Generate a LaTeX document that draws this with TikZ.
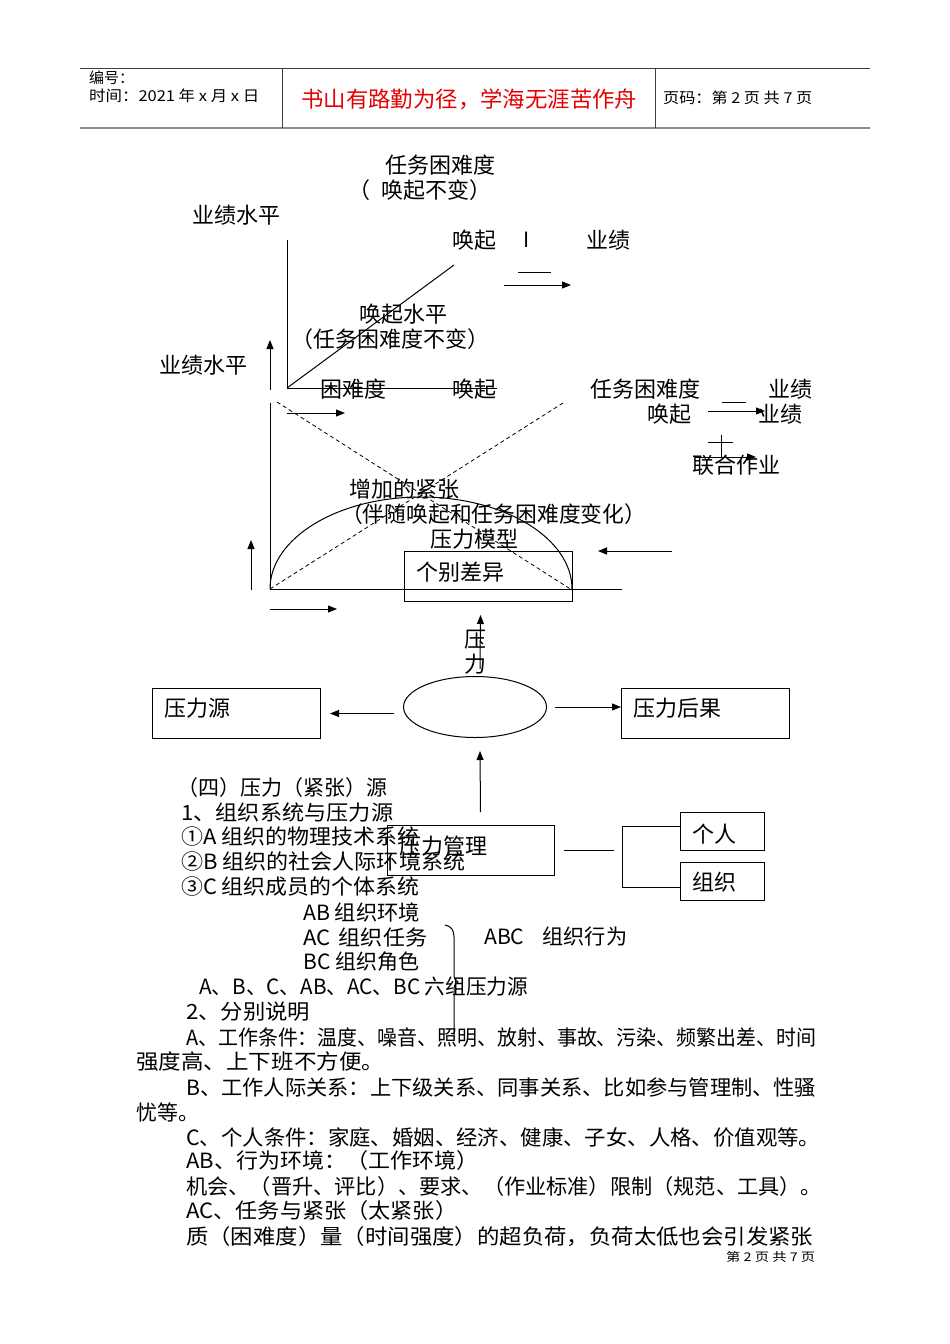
\documentclass[tikz,border=0pt]{standalone}
\usepackage{fontspec}
\usepackage{graphicx}
\newfontfamily\cjk{Noto Sans CJK SC}
\usetikzlibrary{arrows.meta,calc,shapes.geometric}
\definecolor{titred}{RGB}{228,0,0}
\newcommand\fw[2]{\resizebox{#1pt}{\height}{#2}}
\newcommand\fdiag{\cjk\fontsize{22pt}{22pt}\selectfont}
\newcommand\fbody{\cjk\fontsize{21pt}{21pt}\selectfont}
\newcommand\fhdr{\cjk\fontsize{15pt}{15pt}\selectfont}
\newcommand\ffoot{\cjk\fontsize{12pt}{12pt}\selectfont}
\tikzset{
  lab/.style={font=\fdiag, inner sep=0pt, anchor=west},
  txt/.style={font=\fbody, inner sep=0pt, anchor=west},
  hdr/.style={font=\fhdr, inner sep=0pt, anchor=west},
  bx/.style={draw, line width=1pt, inner sep=0pt, anchor=north west},
  arr/.style={-{Triangle[length=9pt,width=7pt]}, line width=1pt},
  ln/.style={line width=1pt},
  dsh/.style={line width=0.8pt, dash pattern=on 4pt off 3pt},
}
\begin{document}
\begin{tikzpicture}[x=1pt,y=-1pt]
\useasboundingbox[fill=white] (0,0) rectangle (950,1344);

% ---------- header ----------
\draw[line width=1pt, black!75] (80,68) -- (870,68);
\draw[line width=2pt, black!45] (80,128) -- (870,128);
\draw[line width=1pt, black!75] (282,68) -- (282,128);
\draw[line width=1pt, black!75] (655,68) -- (655,128);
\node[hdr] (h1) at (89,78) {编号：};
\node[hdr] (h2) at (89,96) {\fw{170}{时间：2021 年 x 月 x 日}};
\node[hdr, font=\cjk\fontsize{22pt}{22pt}\selectfont, text=titred] (h3) at (301,99) {\fw{336}{书山有路勤为径，学海无涯苦作舟}};
\node[hdr] (h4) at (663,98) {\fw{149}{页码：第 2 页 共 7 页}};

% ---------- upper diagram ----------
\node[lab] (u1) at (385,165) {任务困难度};
\node[lab] (u2) at (348,190) {（\hspace{11pt}唤起不变）};
\node[lab] (u3) at (192,215) {业绩水平};
\node[lab] (u4) at (452,240) {唤起};
\node[font=\cjk\fontsize{21pt}{21pt}\selectfont, inner sep=0pt] (u5) at (527,240) {I};
\node[lab] (u6) at (586,240) {业绩};
\node[lab] (u7) at (359,314) {唤起水平};
\node[lab] (u8) at (291,339) {（任务困难度不变）};
\node[lab] (u9) at (159,365) {业绩水平};
\node[lab] (u10) at (320,389) {困难度};
\node[lab] (u11) at (452,389) {唤起};
\node[lab] (u12) at (590,389) {任务困难度};
\node[lab] (u13) at (647,414) {唤起};
\node[lab] (u14) at (768,389) {业绩};
\node[lab] (u15) at (758,414) {业绩};
\node[lab] (u16) at (692,465) {联合作业};
\node[lab] (u17) at (349,489) {增加的紧张};
\node[lab] (u18) at (341,514) {\fw{305}{（伴随唤起和任务困难度变化）}};
\node[lab] (u19) at (430,539) {压力模型};

% first graph
\coordinate (o1) at (287,388);
\draw[ln] (287,240) -- (o1) -- (497,388);
\draw[ln] (o1) -- (454,265);
\draw[ln] (518,272) -- (551,272);
\coordinate (ra1) at (504,285); \coordinate (ra2) at (571,285);
\draw[arr] (ra1) -- (ra2);
\coordinate (ua1) at (270,390); \coordinate (ua2) at (270,340);
\draw[arr] (ua1) -- (ua2);

% right formula
\draw[ln] (722,402) -- (746,402);
\coordinate (rb1) at (708,411); \coordinate (rb2) at (765,411);
\draw[arr] (rb1) -- (rb2);
\draw[ln] (708,442) -- (733,442);
\draw[ln] (721,435) -- (721,457);
\coordinate (rc1) at (695,457); \coordinate (rc2) at (756,457);
\draw[arr] (rc1) -- (rc2);

% second graph
\coordinate (o2) at (270,589);
\draw[ln] (270,403) -- (o2) -- (622,589);
\draw[dsh] (277,402) -- (572,590);
\draw[dsh] (563,403) -- (o2);
\draw[ln] (o2) arc[start angle=180, end angle=0, x radius=151pt, y radius=92pt];
\coordinate (sa1) at (287,413); \coordinate (sa2) at (345,413);
\draw[arr] (sa1) -- (sa2);
\coordinate (sb1) at (270,609); \coordinate (sb2) at (337,609);
\draw[arr] (sb1) -- (sb2);
\coordinate (sc1) at (251,590); \coordinate (sc2) at (251,540);
\draw[arr] (sc1) -- (sc2);

% individual differences box
\node[bx, minimum width=168pt, minimum height=50pt] (diff) at (404,551) {};
\node[lab] (diffT) at (416,572) {个别差异};
\coordinate (la1) at (672,551);
\draw[arr] (la1) -- ($(la1 -| diff.east)+(25,0)$);

% ---------- stress model ----------
\node[draw, ellipse, line width=1pt, minimum width=143pt, minimum height=61pt, inner sep=0pt] (ell) at (475,707) {};
\node[font=\fdiag, inner sep=0pt] (p1) at (475,640) {压};
\node[font=\fdiag, inner sep=0pt] (p2) at (475,664) {力};
\draw[arr] ($(ell.north)+(5,-7)$) -- ($(diff.south)+(-8,13)$);

\node[bx, minimum width=168pt, minimum height=50pt] (src) at (152,688) {};
\node[lab] (srcT) at (164,708) {压力源};
\node[bx, minimum width=168pt, minimum height=50pt] (res) at (621,688) {};
\node[lab] (resT) at (633,708) {压力后果};
\draw[arr] ($(ell.west |- src.east)+(-9,0)$) -- ($(src.east)+(9,0)$);
\draw[arr] ($(ell.east)+(8,0)$) -- (ell.east -| res.west);

\node[bx, minimum width=167pt, minimum height=50pt] (mgmt) at (387,825) {};
\node[lab] (mgmtT) at (399,846) {压力管理};
\draw[arr] ($(mgmt.north)+(9.5,-13)$) -- ($(ell.south)+(5,13)$);

\node[bx, minimum width=84pt, minimum height=38pt] (pers) at (680,812) {};
\node[lab] (persT) at (692,834) {个人};
\node[bx, minimum width=84pt, minimum height=38pt] (org) at (680,862) {};
\node[lab] (orgT) at (692,882) {组织};
\draw[ln] ($(mgmt.east)+(9,0)$) -- ($(mgmt.east)+(59,0)$);
\draw[ln] (pers.west |- 0,826) -- (622,826) -- (622,887) -- (org.west |- 0,887);

% ---------- text ----------
\node[txt] (t1) at (177,788) {（四）压力（紧张）源};
\node[txt] (t2) at (181,813) {\fw{212}{1、组织系统与压力源}};
\node[txt] (t3) at (181,837) {\fw{238}{①A 组织的物理技术系统}};
\node[txt] (t4) at (181,862) {\fw{284}{②B 组织的社会人际环境系统}};
\node[txt] (t5) at (181,887) {\fw{238}{③C 组织成员的个体系统}};
\node[txt] (t6) at (303,912) {\fw{117}{AB 组织环境}};
\node[txt] (t7) at (303,937) {\fw{124}{AC\hspace{8pt}组织任务}};
\node[txt] (t8) at (303,962) {\fw{116}{BC 组织角色}};
\node[txt] (t9) at (484,937) {\fw{143}{ABC\hspace{18pt}组织行为}};
\draw[ln] (445,925) .. controls (451,926) and (454,930) .. (454,937) -- (454,975)
  .. controls (454,979) and (456,981) .. (458,982)
  .. controls (456,983) and (454,985) .. (454,989) -- (454,1035);
\node[txt] (t10) at (199,987) {\fw{329}{A、B、C、AB、AC、BC 六组压力源}};
\node[txt] (t11) at (186,1012) {\fw{124}{2、分别说明}};
\node[txt] (t12) at (186,1037) {\fw{630}{A、工作条件：温度、噪音、照明、放射、事故、污染、频繁出差、时间}};
\node[txt] (t13) at (136,1062) {\fw{248}{强度高、上下班不方便。}};
\node[txt] (t14) at (186,1087) {\fw{630}{B、工作人际关系：上下级关系、同事关系、比如参与管理制、性骚}};
\node[txt] (t15) at (136,1112) {忧等。};
\node[txt] (t16) at (186,1137) {\fw{634}{C、个人条件：家庭、婚姻、经济、健康、子女、人格、价值观等。}};
\node[txt] (t17) at (186,1161) {\fw{292}{AB、行为环境：（工作环境）}};
\node[txt] (t18) at (186,1187) {\fw{636}{机会、（晋升、评比）、要求、（作业标准）限制（规范、工具）。}};
\node[txt] (t19) at (186,1211) {\fw{271}{AC、任务与紧张（太紧张）}};
\node[txt] (t20) at (186,1237) {\fw{627}{质（困难度）量（时间强度）的超负荷，负荷太低也会引发紧张}};
\node[txt, font=\ffoot] (ft) at (726,1257) {\fw{89}{第 2 页 共 7 页}};
\end{tikzpicture}
\end{document}
